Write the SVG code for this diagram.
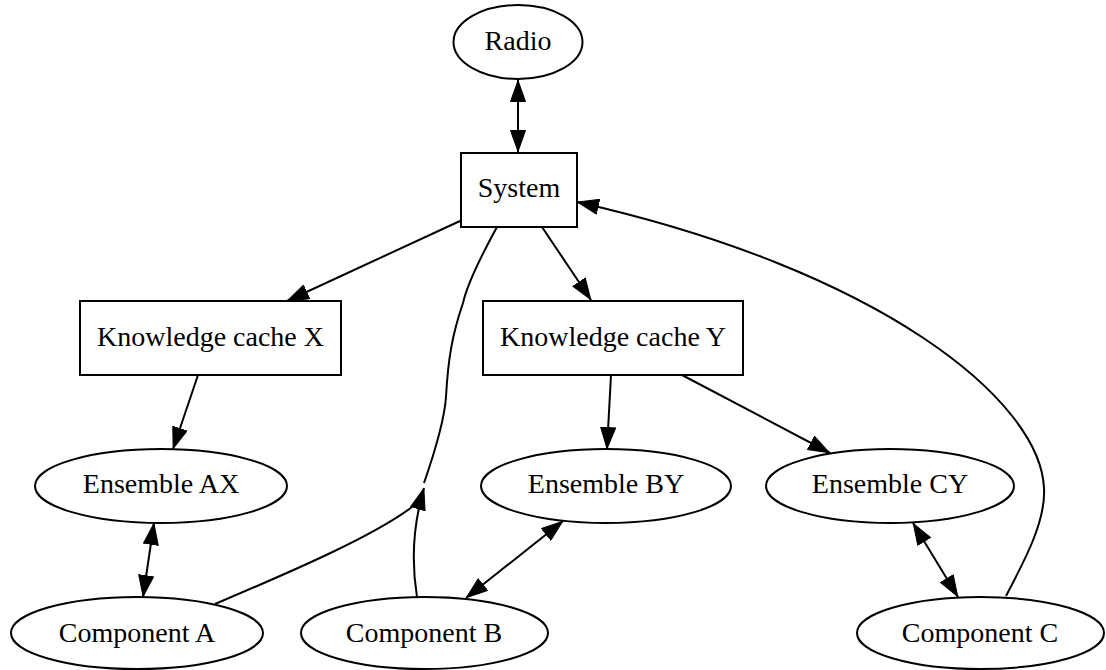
<svg xmlns="http://www.w3.org/2000/svg" width="1106" height="670" viewBox="0 0 1106 670">
<style>
.node ellipse, .node rect { fill: #ffffff; stroke: #000000; stroke-width: 2; }
.node text { font-family: "Liberation Serif", "Times New Roman", serif; font-size: 28px; fill: #000000; text-anchor: middle; }
.edge path { fill: none; stroke: #000000; stroke-width: 2; }
</style>
<defs>
<marker id="arrow" viewBox="0 0 22 16" refX="22" refY="8" markerWidth="22" markerHeight="16" markerUnits="userSpaceOnUse" orient="auto-start-reverse">
<path d="M0.5,0.5 L21.5,8 L0.5,15.5 z" fill="#000000" stroke="#000000" stroke-width="1"/>
</marker>
</defs>
<rect x="0" y="0" width="1106" height="670" fill="#ffffff"/>
<g id="edges" class="edge">
<path d="M518,80 L518,152" marker-start="url(#arrow)" marker-end="url(#arrow)"/>
<path d="M460,221 L287,301" marker-end="url(#arrow)"/>
<path d="M542,227 L591,300" marker-end="url(#arrow)"/>
<path d="M198,375 L173,449" marker-end="url(#arrow)"/>
<path d="M611,375 L607,449" marker-end="url(#arrow)"/>
<path d="M682,375 L830,453" marker-end="url(#arrow)"/>
<path d="M154,523 L143,597" marker-start="url(#arrow)" marker-end="url(#arrow)"/>
<path d="M563,521 L466,598" marker-start="url(#arrow)" marker-end="url(#arrow)"/>
<path d="M913,523 L958,597" marker-start="url(#arrow)" marker-end="url(#arrow)"/>
<path d="M1006,596 C1026,558 1046,520 1044,488 C1040,400 880,270 577,202" marker-end="url(#arrow)"/>
<path d="M497,227 C480,258 467,285 463,303 C452,335 448,360 446,397 C444,425 432,460 424,483"/>
<path d="M215,604 C300,568 375,535 412,507"/>
<path d="M417,597 C411,560 413,525 424,488" marker-end="url(#arrow)"/>
</g>
<g id="radio" class="node"><ellipse cx="518" cy="42" rx="64.5" ry="37"/><text x="518" y="50">Radio</text></g>
<g id="system" class="node"><rect x="461" y="153" width="116" height="74"/><text x="519" y="197">System</text></g>
<g id="kcx" class="node"><rect x="80" y="301" width="261" height="74"/><text x="210.5" y="346">Knowledge cache X</text></g>
<g id="kcy" class="node"><rect x="483" y="301" width="260" height="74"/><text x="613" y="346">Knowledge cache Y</text></g>
<g id="eax" class="node"><ellipse cx="161" cy="486" rx="126" ry="37"/><text x="161" y="493">Ensemble AX</text></g>
<g id="eby" class="node"><ellipse cx="606" cy="486" rx="125" ry="37"/><text x="606" y="493">Ensemble BY</text></g>
<g id="ecy" class="node"><ellipse cx="890" cy="486" rx="124" ry="37"/><text x="890" y="493">Ensemble CY</text></g>
<g id="ca" class="node"><ellipse cx="137" cy="633" rx="126" ry="36"/><text x="137" y="642">Component A</text></g>
<g id="cb" class="node"><ellipse cx="424.5" cy="633" rx="123.5" ry="36"/><text x="424" y="642">Component B</text></g>
<g id="cc" class="node"><ellipse cx="980.5" cy="633" rx="123.5" ry="36"/><text x="980" y="642">Component C</text></g>
</svg>
